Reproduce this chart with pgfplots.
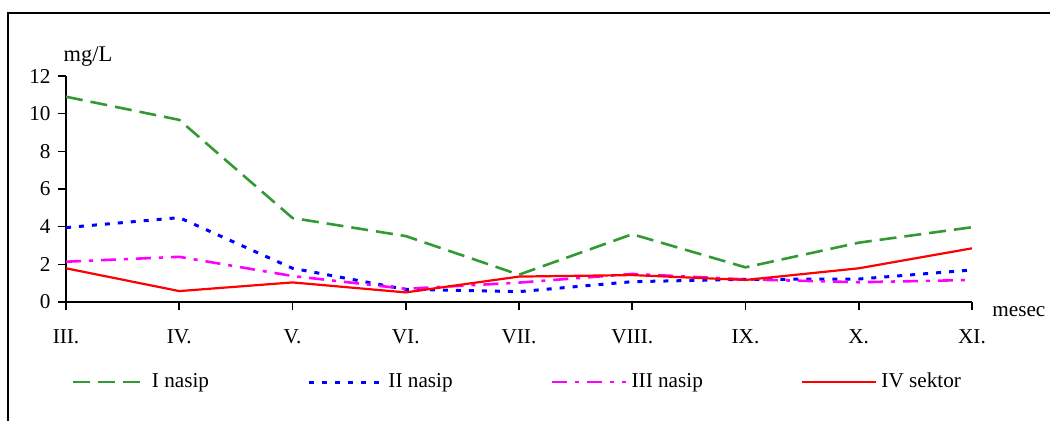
\documentclass[border=0pt]{standalone}
\usepackage{pgfplots}
\pgfplotsset{compat=1.18}
\usepackage{fontspec}
\setmainfont{Liberation Serif}
\definecolor{nasipI}{RGB}{51,153,51}
\definecolor{nasipII}{RGB}{0,0,255}
\definecolor{nasipIII}{RGB}{255,0,255}
\definecolor{sektorIV}{RGB}{255,0,0}
\newcommand\chartfont{\fontsize{10.6}{12.5}\selectfont}
\begin{document}
\chartfont
\begin{tikzpicture}[x=1pt,y=1pt]
\useasboundingbox (0,0) rectangle (525,210);
% outer chart frame
\draw[line width=0.6pt] (4,-5) -- (4,203.5) -- (530,203.5);
\begin{axis}[
  at={(33pt,59pt)}, anchor=south west,
  scale only axis, width=453pt, height=113pt,
  xmin=0, xmax=8, ymin=0, ymax=12,
  axis x line=bottom, axis y line=left,
  axis line style={-, line width=1pt, black},
  xtick={0,...,8},
  xticklabels={III.,IV.,V.,VI.,VII.,VIII.,IX.,X.,XI.},
  ytick={0,2,...,12},
  tick align=outside, major tick length=4pt,
  tick style={black, line width=0.8pt},
  /pgf/number format/assume math mode=true,
  ticklabel style={font=\chartfont},
  xticklabel style={yshift=-6pt},
  legend columns=4,
  legend style={draw=none, fill=none, at={(0.0055,-0.354)}, anchor=west,
    inner xsep=0pt, inner ysep=0pt,
    font=\chartfont,
    /tikz/every even column/.append style={column sep=47.2pt}},
  legend image code/.code={\draw[#1] (0pt,0pt) -- (37pt,0pt);},
  clip=false,
]
\addplot[nasipI, line width=1.3pt, dash pattern=on 8.5pt off 4pt]
  coordinates {(0,10.9) (1,9.67) (2,4.46) (3,3.5) (4,1.45) (5,3.6) (6,1.84) (7,3.15) (8,3.97)};
\addlegendentry{I nasip}
\addplot[nasipII, line width=1.5pt, dash pattern=on 2.5pt off 4pt]
  coordinates {(0,3.95) (1,4.48) (2,1.79) (3,0.67) (4,0.55) (5,1.08) (6,1.2) (7,1.22) (8,1.7)};
\addlegendentry{II nasip}
\addplot[nasipIII, line width=1.3pt, dash pattern=on 7.5pt off 4pt on 2pt off 4pt]
  coordinates {(0,2.14) (1,2.4) (2,1.38) (3,0.7) (4,1.03) (5,1.49) (6,1.2) (7,1.05) (8,1.17)};
\addlegendentry{III nasip}
\addplot[sektorIV, line width=1.1pt]
  coordinates {(0,1.79) (1,0.58) (2,1.04) (3,0.51) (4,1.35) (5,1.43) (6,1.17) (7,1.79) (8,2.85)};
\addlegendentry{IV sektor}
\end{axis}
\node[anchor=center] at (44,181.5) {\fontsize{11.2}{13}\selectfont mg/L};
\node[anchor=west, inner sep=0pt] at (496,54) {mesec};
\end{tikzpicture}
\end{document}
